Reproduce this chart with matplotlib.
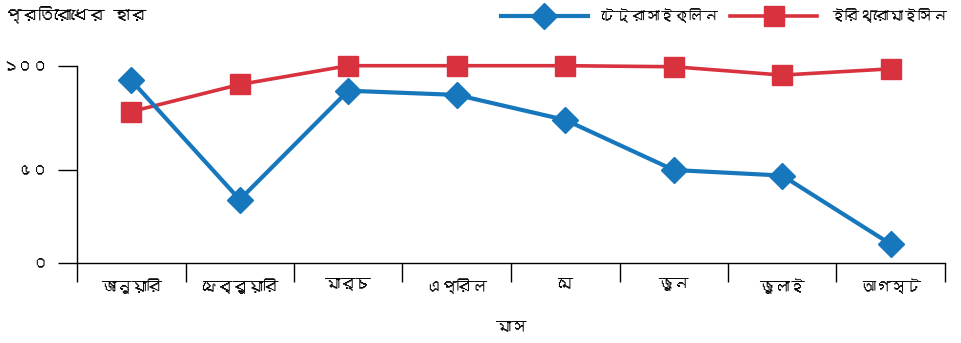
import numpy as np
import matplotlib
matplotlib.use('Agg')
import matplotlib.pyplot as plt
from matplotlib import font_manager as fm

# ---- data ----
months = ["জানুয়ারি", "ফেব্রুয়ারি", "মার্চ", "এপ্রিল", "মে", "জুন", "জুলাই", "আগস্ট"]
tetracycline = [93, 34, 88, 86, 74, 50, 47, 10]
erythromycin = [78, 91, 100, 100, 100, 99.5, 95.5, 98.5]
series_names = ["টেট্রাসাইক্লিন", "ইরিথ্রোমাইসিন"]
yticks = [0, 50, 100]
ytick_labels = ["০", "৫০", "১০০"]
ylabel = "প্রতিরোধের হার"
xlabel = "মাস"


def find_bengali_font():
    try:
        from fontTools.ttLib import TTFont
    except Exception:
        return None
    for f in fm.fontManager.ttflist:
        try:
            tt = TTFont(f.fname, fontNumber=0, lazy=True)
            cmap = tt.getBestCmap()
            if cmap and ord('প') in cmap:
                return f.name
        except Exception:
            continue
    return None


bn = find_bengali_font()
families = [bn, 'DejaVu Sans'] if bn else ['DejaVu Sans']
plt.rcParams['font.family'] = families

BLUE = '#1777bd'
RED = '#d8323f'

fig = plt.figure(figsize=(9.61, 3.43), dpi=100)
ax = fig.add_axes([77 / 961, 1 - 262.7 / 343, (945 - 77) / 961, (262.7 - 65.7) / 343])

# the original axis has unequal spacing between 0-50 and 50-100
lo_px, hi_px = 92.7, 104.3


def fwd(v):
    v = np.asarray(v, float)
    return np.where(v <= 50, v * lo_px / 50, lo_px + (v - 50) * hi_px / 50)


def inv(u):
    u = np.asarray(u, float)
    return np.where(u <= lo_px, u * 50 / lo_px, 50 + (u - lo_px) * 50 / hi_px)


ax.set_yscale('function', functions=(fwd, inv))

x = np.arange(len(months))
l1, = ax.plot(x, tetracycline, color=BLUE, lw=3, marker='D', ms=13.5,
              markeredgecolor=BLUE, clip_on=False, zorder=3, label=series_names[0])
l2, = ax.plot(x, erythromycin, color=RED, lw=2.6, marker='s', ms=15,
              markeredgecolor=RED, clip_on=False, zorder=2, label=series_names[1])

ax.set_xlim(-0.5, len(months) - 0.5)
ax.set_ylim(0, 100)

ax.spines['top'].set_visible(False)
ax.spines['right'].set_visible(False)
for s in ['left', 'bottom']:
    ax.spines[s].set_linewidth(1.0)

ax.set_yticks(yticks)
ax.set_yticklabels(ytick_labels, fontsize=11)
ax.tick_params(axis='y', which='major', length=14, width=1, pad=7, direction='out')
ax.yaxis.set_minor_locator(matplotlib.ticker.NullLocator())

ax.set_xticks(np.arange(-0.5, len(months), 1))
ax.set_xticklabels([''] * (len(months) + 1))
ax.set_xticks(x, minor=True)
ax.set_xticklabels(months, minor=True, fontsize=11)
ax.tick_params(axis='x', which='major', length=14, width=1, direction='out')
ax.tick_params(axis='x', which='minor', length=0, pad=11)

fig.text(511 / 961, 1 - 328 / 343, xlabel, ha='center', va='center', fontsize=11)
fig.text(5 / 961, 1 - 15 / 343, ylabel, ha='left', va='center', fontsize=12)

fig.legend(handles=[l1, l2], loc='center right', bbox_to_anchor=(0.992, 1 - 16 / 343),
           ncol=2, frameon=False, fontsize=10.5, handlelength=6.0, handletextpad=0.9,
           columnspacing=0.8, borderaxespad=0)

fig.savefig('out.png', dpi=100)
